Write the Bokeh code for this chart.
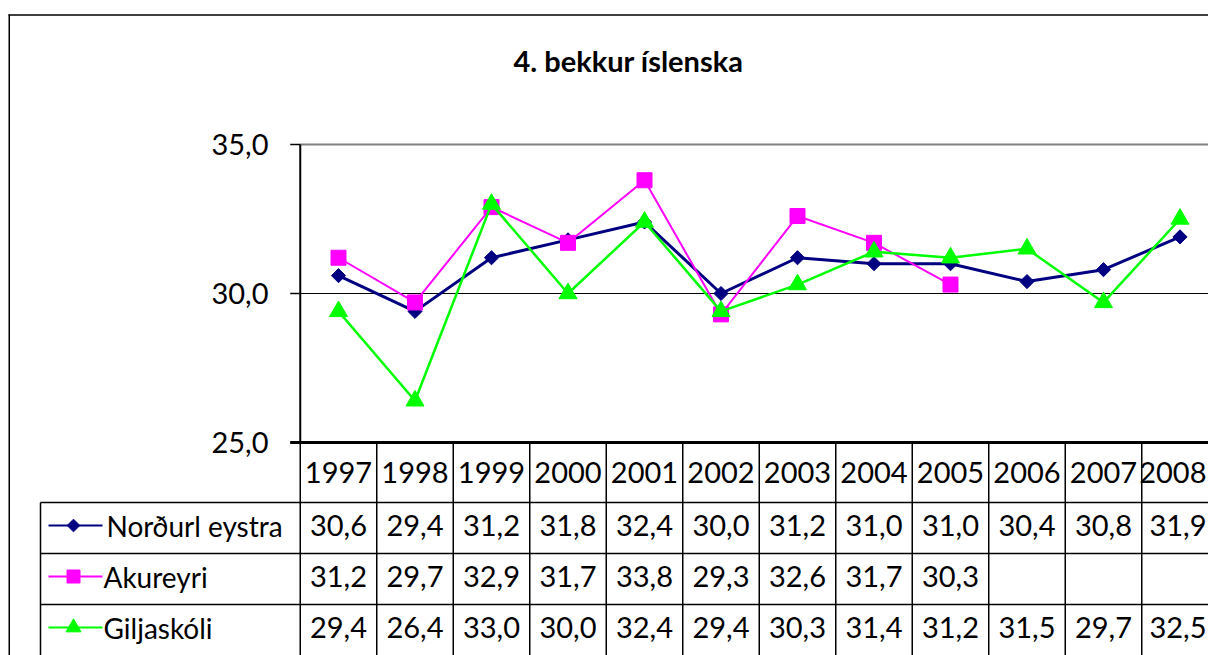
import math
from bokeh.plotting import figure
from bokeh.models import Range1d
from bokeh.core.properties import value
from bokeh.embed import file_html
from bokeh.resources import INLINE

# ---------------- data ----------------
title_text = "4. bekkur íslenska"
years = ["1997", "1998", "1999", "2000", "2001", "2002", "2003", "2004", "2005", "2006", "2007", "2008"]
series_names = ["Norðurl eystra", "Akureyri", "Giljaskóli"]
nordurl = [30.6, 29.4, 31.2, 31.8, 32.4, 30.0, 31.2, 31.0, 31.0, 30.4, 30.8, 31.9]
akureyri = [31.2, 29.7, 32.9, 31.7, 33.8, 29.3, 32.6, 31.7, 30.3, None, None, None]
giljaskoli = [29.4, 26.4, 33.0, 30.0, 32.4, 29.4, 30.3, 31.4, 31.2, 31.5, 29.7, 32.5]
y_ticks = [25.0, 30.0, 35.0]

# ---------------- geometry (canvas pixels) ----------------
W, H = 1208, 655
first_center = 338.0
col_w = 76.5
y_top_px, y_bot_px = 144.0, 442.0
v_min, v_max = y_ticks[0], y_ticks[-1]
ppu = (y_bot_px - y_top_px) / (v_max - v_min)

x_start = (0 - first_center) / col_w
x_end = (W - first_center) / col_w
y_start = v_min - (H - y_bot_px) / ppu
y_end = v_max + (y_top_px - 0) / ppu

FONT = "Lato"
COLORS = ["#000080", "#FF00FF", "#00FF00"]

p = figure(width=W, height=H,
           x_range=Range1d(x_start, x_end), y_range=Range1d(y_start, y_end),
           x_axis_type=None, y_axis_type=None, title=None,
           toolbar_location=None, output_backend="svg", min_border=0)
p.extra_x_ranges = {"px": Range1d(0, W)}
p.extra_y_ranges = {"px": Range1d(H, 0)}
p.outline_line_color = None
p.background_fill_color = "white"
p.border_fill_color = "white"

def px_x(v):
    return (v - first_center) / col_w

n = len(years)
idx = list(range(n))
left_edge = -0.5
tick_len = 10.0 / col_w

# ---------------- outer chart border ----------------
p.segment(x0=[8.75, 8], y0=[655, 14.5], x1=[8.75, 1208], y1=[14, 14.5],
          line_color="black", line_width=1.5, x_range_name="px", y_range_name="px")

# ---------------- title ----------------
p.text(x=[628], y=[60], text=[title_text], x_range_name="px", y_range_name="px",
       text_font=value(FONT), text_font_style="bold", text_font_size="29px",
       text_align="center", text_baseline="middle", text_color="black")

# ---------------- plot area frame / axis ----------------
p.segment(x0=[left_edge], y0=[30.0], x1=[x_end], y1=[30.0], line_color="black", line_width=1)
p.segment(x0=[left_edge], y0=[v_max], x1=[x_end], y1=[v_max], line_color="#808080", line_width=2)
p.segment(x0=[left_edge], y0=[v_min], x1=[left_edge], y1=[v_max], line_color="black", line_width=2)
p.segment(x0=[left_edge - tick_len] * len(y_ticks), y0=y_ticks,
          x1=[left_edge] * len(y_ticks), y1=y_ticks, line_color="black", line_width=1.5)
p.segment(x0=[left_edge - tick_len], y0=[v_min], x1=[x_end], y1=[v_min], line_color="black", line_width=3)

tick_labels = [f"{t:.1f}".replace(".", ",") for t in y_ticks]
p.text(x=[px_x(268)] * len(y_ticks), y=y_ticks, text=tick_labels,
       text_font=value(FONT), text_font_size="29px", text_align="right",
       text_baseline="middle", text_color="black")

# ---------------- series ----------------
def pts(vals):
    xs = [i for i, v in zip(idx, vals) if v is not None]
    ys = [v for v in vals if v is not None]
    return xs, ys

xs, ys = pts(nordurl)
p.line(xs, ys, line_color=COLORS[0], line_width=3)
p.scatter(xs, ys, marker="square", angle=math.pi / 4, size=10, fill_color=COLORS[0], line_color=COLORS[0])

xs, ys = pts(akureyri)
p.line(xs, ys, line_color=COLORS[1], line_width=2)
p.scatter(xs, ys, marker="square", size=15, fill_color=COLORS[1], line_color=COLORS[1])

xs, ys = pts(giljaskoli)
p.line(xs, ys, line_color=COLORS[2], line_width=2.5)
p.scatter(xs, ys, marker="triangle", size=18, fill_color=COLORS[2], line_color=COLORS[2])

# ---------------- data table ----------------
header_y = 472
row_tops = [502, 553, 604]
row_text_y = [525, 576, 627]
table_left = 40
bottom_px = 655

# vertical cell borders
bx = [i - 0.5 for i in range(n + 1) if i - 0.5 <= x_end]
p.segment(x0=bx, y0=[y_bot_px] * len(bx), x1=bx, y1=[bottom_px] * len(bx),
          line_color="black", line_width=1.5, y_range_name="px")
# horizontal row borders
p.segment(x0=[table_left] * len(row_tops), y0=row_tops, x1=[W] * len(row_tops), y1=row_tops,
          line_color="black", line_width=1.5, x_range_name="px", y_range_name="px")
p.segment(x0=[table_left], y0=[row_tops[0]], x1=[table_left], y1=[bottom_px],
          line_color="black", line_width=1.5, x_range_name="px", y_range_name="px")

def fmt(v):
    return "" if v is None else f"{v:.1f}".replace(".", ",")

# all columns but the last are centred; the last (cut by the edge) is kept inside the canvas
inner = idx[:-1]
last_x = px_x(W - 2)

p.text(x=inner, y=[header_y] * len(inner), text=years[:-1], y_range_name="px",
       text_font=value(FONT), text_font_size="29px", text_align="center",
       text_baseline="middle", text_color="black")
p.text(x=[last_x], y=[header_y], text=years[-1:], y_range_name="px",
       text_font=value(FONT), text_font_size="29px", text_align="right",
       text_baseline="middle", text_color="black")

for vals, ty in zip([nordurl, akureyri, giljaskoli], row_text_y):
    labels = [fmt(v) for v in vals]
    p.text(x=inner, y=[ty] * len(inner), text=labels[:-1], y_range_name="px",
           text_font=value(FONT), text_font_size="29px", text_align="center",
           text_baseline="middle", text_color="black")
    p.text(x=[last_x], y=[ty], text=labels[-1:], y_range_name="px",
           text_font=value(FONT), text_font_size="29px", text_align="right",
           text_baseline="middle", text_color="black")

# legend keys in table
key_x0, key_x1, key_xm = 48, 102, 73
markers = [("square", math.pi / 4, 9), ("square", 0, 13), ("triangle", 0, 15)]
for (mk, ang, sz), col, ty in zip(markers, COLORS, row_text_y):
    p.segment(x0=[key_x0], y0=[ty], x1=[key_x1], y1=[ty], line_color=col, line_width=2,
              x_range_name="px", y_range_name="px")
    p.scatter([key_xm], [ty], marker=mk, angle=ang, size=sz, fill_color=col, line_color=col,
              x_range_name="px", y_range_name="px")

p.text(x=[106, 103, 103], y=row_text_y, text=series_names, x_range_name="px", y_range_name="px",
       text_font=value(FONT), text_font_size="28px", text_align="left",
       text_baseline="middle", text_color="black")

open("out.html", "w").write(file_html(p, INLINE))
